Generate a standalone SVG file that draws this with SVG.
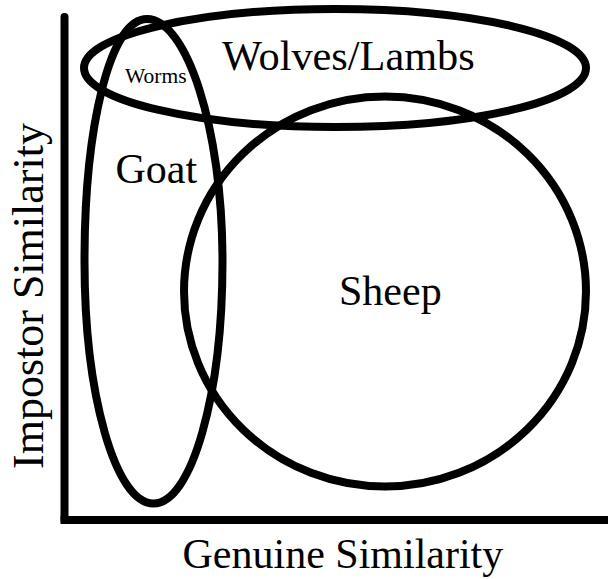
<svg xmlns="http://www.w3.org/2000/svg" width="608" height="579" viewBox="0 0 608 579">
<style>
.shape{fill:none;stroke:#000;stroke-width:8}
.lbl{font-family:"Liberation Serif","Times New Roman",serif;fill:#000}
</style>
<rect width="608" height="579" fill="#fff"/>
<g id="axes">
<path d="M64.5,17 V520" fill="none" stroke="#000" stroke-width="8" stroke-linecap="round"/>
<path d="M60.5,520 H608" fill="none" stroke="#000" stroke-width="8"/>
</g>
<g id="wolves-lambs">
<ellipse class="shape" cx="335" cy="68" rx="251" ry="59"/>
<text class="lbl" x="222" y="70" font-size="42.3">Wolves/Lambs</text>
</g>
<g id="goat">
<path class="shape" d="M84.5,261 C84.5,127 110,19 147,19 C186,19 222.5,127 222.5,261 C222.5,395 191.6,503.5 153.5,503.5 C115.4,503.5 84.5,395 84.5,261 Z"/>
<text class="lbl" x="115.5" y="183" font-size="42">Goat</text>
</g>
<g id="worms">
<text class="lbl" x="125" y="83" font-size="21.5">Worms</text>
</g>
<g id="sheep">
<ellipse class="shape" cx="385" cy="291.5" rx="201" ry="195"/>
<text class="lbl" x="339" y="305" font-size="42">Sheep</text>
</g>
<g id="axis-labels">
<text class="lbl" x="182.5" y="568" font-size="42">Genuine Similarity</text>
<text class="lbl" transform="translate(43.3,469) rotate(-90)" x="0" y="0" font-size="44">Impostor Similarity</text>
</g>
<g id="connectors"></g>
</svg>
